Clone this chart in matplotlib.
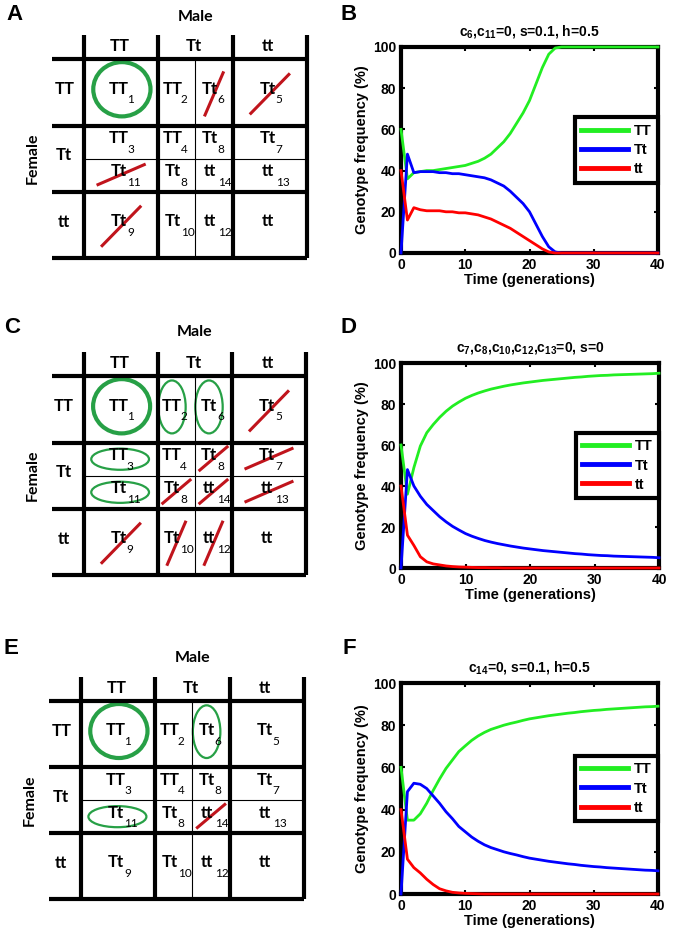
import numpy as np
import matplotlib
matplotlib.use('Agg')
import matplotlib.pyplot as plt
from matplotlib.patches import Ellipse

# ---------------- data ----------------
generations = list(range(41))

# panel B: c6, c11 = 0, s = 0.1, h = 0.5
b_TT = [60, 36, 39, 39.5, 40, 40, 40.5, 41, 41.5, 42, 42.5, 43.5, 44.5, 46, 48, 51,
        54, 58, 63, 68, 74, 82, 90, 96.5, 99.5, 100, 100, 100, 100, 100, 100,
        100, 100, 100, 100, 100, 100, 100, 100, 100, 100]
b_Tt = [0, 48, 39, 39.5, 39.5, 39.5, 39, 39, 38.5, 38.5, 38, 37.5, 37, 36.5, 35.5, 34,
        32.5, 30, 27, 24, 20, 14, 8, 3, 0.5, 0, 0, 0, 0, 0, 0,
        0, 0, 0, 0, 0, 0, 0, 0, 0, 0]
b_tt = [40, 16, 22, 21, 20.5, 20.5, 20.5, 20, 20, 19.5, 19.5, 19, 18.5, 17.5, 16.5, 15,
        13.5, 12, 10, 8, 6, 4, 2, 0.5, 0, 0, 0, 0, 0, 0, 0,
        0, 0, 0, 0, 0, 0, 0, 0, 0, 0]

# panel D: c7, c8, c10, c12, c13 = 0, s = 0
d_TT = [60, 36, 49, 59.5, 66, 70, 73.5, 76.5, 79, 81, 82.8, 84.2, 85.4, 86.4, 87.3, 88,
        88.7, 89.3, 89.8, 90.3, 90.7, 91.1, 91.5, 91.8, 92.1, 92.4, 92.7, 93, 93.2, 93.5, 93.7,
        93.9, 94, 94.2, 94.3, 94.4, 94.5, 94.6, 94.7, 94.8, 95]
d_Tt = [0, 48, 40, 35, 31, 28, 25, 22.5, 20.3, 18.5, 16.8, 15.5, 14.4, 13.4, 12.6, 11.9,
        11.3, 10.7, 10.2, 9.7, 9.3, 8.9, 8.5, 8.2, 7.9, 7.6, 7.3, 7, 6.8, 6.5, 6.3,
        6.1, 6, 5.8, 5.7, 5.6, 5.5, 5.4, 5.3, 5.2, 5]
d_tt = [40, 16, 11, 5.5, 3, 2, 1.5, 1, 0.7, 0.5, 0.4, 0.3, 0.2, 0.2, 0.1, 0.1,
        0, 0, 0, 0, 0, 0, 0, 0, 0, 0, 0, 0, 0, 0, 0,
        0, 0, 0, 0, 0, 0, 0, 0, 0, 0]

# panel F: c14 = 0, s = 0.1, h = 0.5
f_TT = [60, 35, 35, 38, 43, 49, 54.5, 59.5, 63.5, 67.5, 70.2, 72.8, 74.9, 76.6, 78, 79,
        80, 80.8, 81.5, 82.3, 83, 83.5, 84, 84.5, 84.9, 85.3, 85.7, 86, 86.4, 86.7, 87,
        87.2, 87.5, 87.7, 87.9, 88.1, 88.3, 88.5, 88.7, 88.8, 89]
f_Tt = [0, 48.5, 52.5, 52, 50, 46.5, 43, 39, 35.7, 32, 29.5, 27, 25, 23.3, 22, 21,
        20, 19.2, 18.5, 17.7, 17, 16.5, 16, 15.5, 15.1, 14.7, 14.3, 14, 13.6, 13.3, 13,
        12.8, 12.5, 12.3, 12.1, 11.9, 11.7, 11.5, 11.3, 11.2, 11]
f_tt = [40, 16.5, 12.5, 10, 7, 4.5, 2.5, 1.5, 0.8, 0.5, 0.3, 0.2, 0.1, 0, 0, 0,
        0, 0, 0, 0, 0, 0, 0, 0, 0, 0, 0, 0, 0, 0, 0,
        0, 0, 0, 0, 0, 0, 0, 0, 0, 0]

series_names = ['TT', 'Tt', 'tt']
series_colors = ['#22ee22', '#0000ff', '#ff0000']

b_title = 'c$_6$,c$_{11}$=0, s=0.1, h=0.5'
d_title = 'c$_7$,c$_8$,c$_{10}$,c$_{12}$,c$_{13}$=0, s=0'
f_title = 'c$_{14}$=0, s=0.1, h=0.5'

# mating table: column/row headers and offspring genotype (subscript index) in each cell
parent_genotypes = ['TT', 'Tt', 'tt']
cell_keys = ['1', '2', '6', '5', '3', '4', '8a', '7', '11', '8b', '14', '13', '9', '10', '12', 'tt']
cell_genotype = ['TT', 'TT', 'Tt', 'Tt', 'TT', 'TT', 'Tt', 'Tt', 'Tt', 'Tt', 'tt', 'tt',
                 'Tt', 'Tt', 'tt', 'tt']
cell_index = ['1', '2', '6', '5', '3', '4', '8', '7', '11', '8', '14', '13', '9', '10', '12', '']

a_kept = ['1']
a_removed = ['6', '5', '11', '9']
c_kept = ['1', '2', '6', '3', '11']
c_removed = ['5', '8a', '7', '8b', '14', '13', '9', '10', '12']
e_kept = ['1', '6', '11']
e_removed = ['14']

# ---------------- layout ----------------
W, H = 676, 938
plt.rcParams['mathtext.fontset'] = 'custom'
plt.rcParams['mathtext.rm'] = 'Liberation Sans:bold'
plt.rcParams['mathtext.it'] = 'Liberation Sans:bold'
plt.rcParams['mathtext.bf'] = 'Liberation Sans:bold'

fig = plt.figure(figsize=(W / 100, H / 100), dpi=100)

# cell rectangles in table units (x0, x1, y0, y1), y grows downward
slots = {
    '1': (0, 1, 0, 1), '2': (1, 1.5, 0, 1), '6': (1.5, 2, 0, 1), '5': (2, 3, 0, 1),
    '3': (0, 1, 1, 1.5), '4': (1, 1.5, 1, 1.5), '8a': (1.5, 2, 1, 1.5), '7': (2, 3, 1, 1.5),
    '11': (0, 1, 1.5, 2), '8b': (1, 1.5, 1.5, 2), '14': (1.5, 2, 1.5, 2), '13': (2, 3, 1.5, 2),
    '9': (0, 1, 2, 3), '10': (1, 1.5, 2, 3), '12': (1.5, 2, 2, 3), 'tt': (2, 3, 2, 3),
}
LABEL_W = 0.43
HEAD_H = 0.37
TFONT = 'Lato'
TSIZE = 12
GREEN = '#27a046'
DARKRED = '#c0141c'


def px_axes(left, top, right, bottom):
    return fig.add_axes([left / W, 1 - bottom / H, (right - left) / W, (bottom - top) / H])


def draw_table(box, kept, removed, letter, letter_xy, male_y, female_x):
    ax = px_axes(*box)
    ax.set_xlim(-LABEL_W, 3)
    ax.set_ylim(3, -HEAD_H)
    ax.axis('off')
    thick = dict(color='black', lw=3.0, solid_capstyle='butt', clip_on=False)
    thin = dict(color='black', lw=0.8, clip_on=False)
    for x in [0, 1, 2, 3]:
        ax.plot([x, x], [-HEAD_H, 3], **thick)
    for y in [0, 1, 2, 3]:
        ax.plot([-LABEL_W, 3], [y, y], **thick)
    ax.plot([1.5, 1.5], [0, 3], **thin)
    ax.plot([0, 3], [1.5, 1.5], **thin)

    for i, g in enumerate(parent_genotypes):
        ax.text(i + 0.48, -0.2, g, ha='center', va='center', fontsize=TSIZE,
                fontweight='bold', family=TFONT)
        ax.text(-LABEL_W / 2 - 0.05, i + 0.45, g, ha='center', va='center', fontsize=TSIZE,
                fontweight='bold', family=TFONT)

    for key, g, idx in zip(cell_keys, cell_genotype, cell_index):
        x0, x1, y0, y1 = slots[key]
        cx, cy = (x0 + x1) / 2, (y0 + y1) / 2
        mx = cx - (0.06 if x1 - x0 < 1 else 0.03)
        my = cy - 0.06
        ax.text(mx, my, g, ha='center', va='center', fontsize=TSIZE,
                fontweight='bold', family=TFONT)
        if idx:
            ax.text(mx + 0.11, my + 0.17, idx, ha='left', va='center', fontsize=8.5,
                    family=TFONT)

    for key in kept:
        x0, x1, y0, y1 = slots[key]
        cx, cy = (x0 + x1) / 2, (y0 + y1) / 2
        w, h = x1 - x0, y1 - y0
        if w == 1 and h == 1:
            e = Ellipse((cx + 0.01, cy - 0.05), 0.77, 0.82, fill=False, ec=GREEN, lw=3.0)
        elif w < 1:
            e = Ellipse((cx - 0.06, cy - 0.04), 0.37, 0.8, fill=False, ec=GREEN, lw=1.6)
        else:
            e = Ellipse((cx - 0.01, cy + 0.0), 0.78, 0.32, fill=False, ec=GREEN, lw=1.6)
        e.set_clip_on(False)
        ax.add_patch(e)

    for key in removed:
        x0, x1, y0, y1 = slots[key]
        cx, cy = (x0 + x1) / 2, (y0 + y1) / 2
        w, h = x1 - x0, y1 - y0
        if w < 1 and h < 1:
            hx, hy = 0.2, 0.19
        elif w < 1:
            hx, hy = 0.13, 0.34
        elif h < 1:
            hx, hy = 0.33, 0.16
        else:
            hx, hy = 0.27, 0.31
        cyy = cy + (0.02 if h == 1 else -0.01)
        ax.plot([cx - hx, cx + hx], [cyy + hy, cyy - hy], color=DARKRED, lw=2.2,
                solid_capstyle='butt', clip_on=False)

    # "Male" centred over the three genotype columns, "Female" over the three rows
    my_ = -HEAD_H - (box[1] - male_y) * (3 + HEAD_H) / (box[3] - box[1])
    ax.text(1.5, my_, 'Male', ha='center', va='center', fontsize=11.5,
            fontweight='bold', family=TFONT, clip_on=False)
    fx = -LABEL_W - (box[0] - female_x) * (3 + LABEL_W) / (box[2] - box[0])
    ax.text(fx, 1.5, 'Female', rotation=90, ha='center', va='center',
            fontsize=11.5, fontweight='bold', family=TFONT, clip_on=False)
    fig.text(letter_xy[0] / W, 1 - letter_xy[1] / H, letter, ha='center', va='center',
             fontsize=16, fontweight='bold', family='Liberation Sans')


def draw_plot(box, TT, Tt, tt, title, letter, letter_xy):
    ax = px_axes(*box)
    for vals, name, c in zip([TT, Tt, tt], series_names, series_colors):
        ax.plot(generations, vals, color=c, lw=2.0, label=name, zorder=3, clip_on=False)
    ax.set_xlim(0, 40)
    ax.set_ylim(0, 100)
    ax.set_xticks([0, 10, 20, 30, 40])
    ax.set_yticks([0, 20, 40, 60, 80, 100])
    for s in ax.spines.values():
        s.set_linewidth(3.0)
    ax.tick_params(direction='in', length=3, width=1.5, top=True, right=True, labelsize=10)
    for lab in ax.get_xticklabels() + ax.get_yticklabels():
        lab.set_fontweight('bold')
        lab.set_family('Liberation Sans')
    ax.set_xlabel('Time (generations)', fontsize=10.5, fontweight='bold',
                  family='Liberation Sans', labelpad=1)
    ax.set_ylabel('Genotype frequency (%)', fontsize=10.5, fontweight='bold',
                  family='Liberation Sans', labelpad=3)
    ax.set_title(title, fontsize=10, fontweight='bold', family='Liberation Sans', pad=8)
    leg = ax.legend(loc='center right', borderaxespad=0, fancybox=False, framealpha=1,
                    handlelength=3.2, handletextpad=0.4, labelspacing=0.35, borderpad=0.45,
                    prop={'family': 'Liberation Sans', 'weight': 'bold', 'size': 10.5})
    leg.get_frame().set_edgecolor('black')
    leg.get_frame().set_linewidth(3.0)
    for line in leg.get_lines():
        line.set_linewidth(3.5)
    fig.text(letter_xy[0] / W, 1 - letter_xy[1] / H, letter, ha='center', va='center',
             fontsize=16, fontweight='bold', family='Liberation Sans')


draw_table((52, 35, 307, 258), a_kept, a_removed, 'A', (14, 15), 17, 33)
draw_table((52, 352, 306, 575), c_kept, c_removed, 'C', (12, 327), 332, 33)
draw_table((49, 677, 304, 899), e_kept, e_removed, 'E', (11, 649), 658, 30)

draw_plot((401, 47, 658, 253), b_TT, b_Tt, b_tt, b_title, 'B', (349, 15))
draw_plot((401, 363, 659, 568), d_TT, d_Tt, d_tt, d_title, 'D', (349, 327))
draw_plot((401, 683, 658, 894), f_TT, f_Tt, f_tt, f_title, 'F', (349, 648))

fig.savefig('out.png', dpi=100)
